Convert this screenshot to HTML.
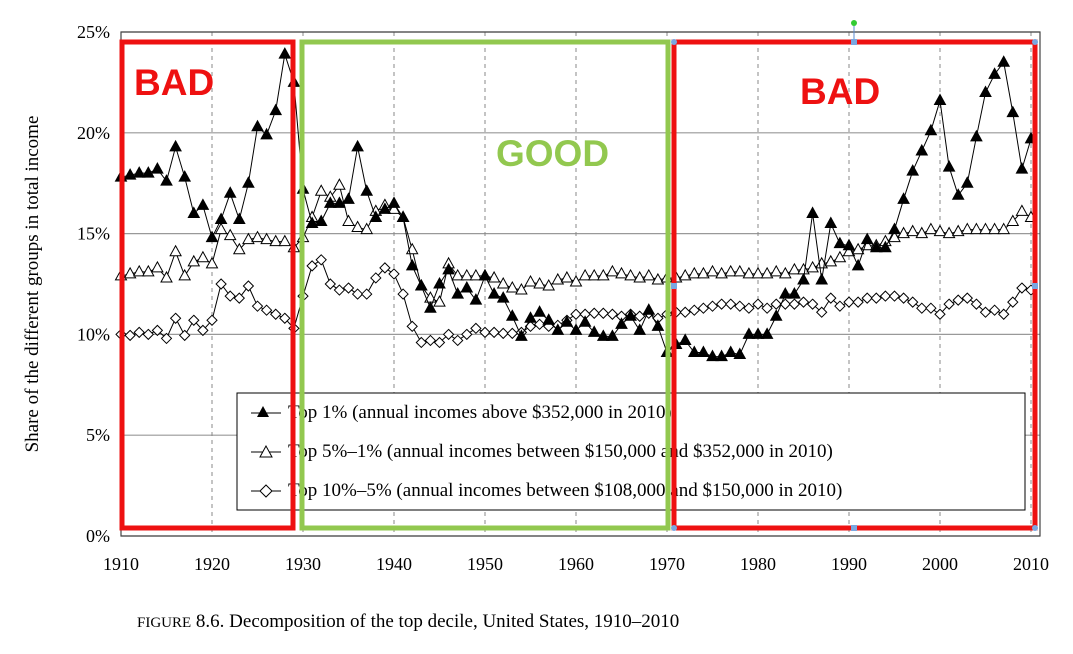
<!DOCTYPE html>
<html><head><meta charset="utf-8"><style>
body{margin:0;background:#fff;}
svg text{font-family:"Liberation Serif",serif;}
</style></head><body>
<svg id="c" width="1073" height="649" viewBox="0 0 1073 649" xmlns="http://www.w3.org/2000/svg">
<g id="grid"></g>
<g id="axes"></g>
<g id="series"></g>
<g id="legend">
<rect x="237" y="393" width="788" height="117" fill="#fff" stroke="#000" stroke-width="1"/>
<polygon points="263,406 257,417 269,417" fill="#000"/>
<line x1="251" y1="413" x2="281" y2="413" stroke="#000"/>
<text x="288" y="418" font-size="19">Top 1% (annual incomes above $352,000 in 2010)</text>
<line x1="251" y1="452" x2="281" y2="452" stroke="#000"/>
<polygon points="266,446 260,457 272,457" fill="#fff" stroke="#000"/>
<text x="288" y="457" font-size="19">Top 5%–1% (annual incomes between $150,000 and $352,000 in 2010)</text>
<line x1="251" y1="491" x2="281" y2="491" stroke="#000"/>
<polygon points="266,485 272,491 266,497 260,491" fill="#fff" stroke="#000"/>
<text x="288" y="496" font-size="19">Top 10%–5% (annual incomes between $108,000 and $150,000 in 2010)</text>
</g>
<g id="annot">
<rect x="122" y="42" width="171" height="486" fill="none" stroke="#ee1111" stroke-width="5"/>
<rect x="302" y="42" width="366" height="486" fill="none" stroke="#92c84f" stroke-width="5"/>
<rect x="674" y="42" width="361" height="486" fill="none" stroke="#ee1111" stroke-width="5"/>
<text x="134" y="95" font-size="37" font-weight="bold" fill="#ee1111" style="font-family:'Liberation Sans',sans-serif">BAD</text>
<text x="496" y="166" font-size="37" font-weight="bold" fill="#92c84f" style="font-family:'Liberation Sans',sans-serif">GOOD</text>
<text x="800" y="104" font-size="37" font-weight="bold" fill="#ee1111" style="font-family:'Liberation Sans',sans-serif">BAD</text>
<line x1="854" y1="24" x2="854" y2="42" stroke="#5b8bd0"/>
<circle cx="854" cy="23" r="3" fill="#3c3"/>
<rect x="851" y="39" width="6" height="6" fill="#7aa7e0"/><rect x="851" y="525" width="6" height="6" fill="#7aa7e0"/>
<rect x="671" y="283" width="6" height="6" fill="#7aa7e0"/><rect x="1032" y="283" width="6" height="6" fill="#7aa7e0"/>
<circle cx="674" cy="42" r="3" fill="#7aa7e0"/><circle cx="1035" cy="42" r="3" fill="#7aa7e0"/>
<circle cx="674" cy="528" r="3" fill="#7aa7e0"/><circle cx="1035" cy="528" r="3" fill="#7aa7e0"/>
</g>
<text transform="translate(38,284) rotate(-90)" text-anchor="middle" font-size="19">Share of the different groups in total income</text>
<text x="137" y="627" font-size="19"><tspan font-size="15">FIGURE</tspan> 8.6.  Decomposition of the top decile, United States, 1910–2010</text>
</svg>
<script>
const years = []; for (let y = 1910; y <= 2010; y++) years.push(y);
const top1 = [17.8,17.9,18.0,18.0,18.2,17.6,19.3,17.8,16.0,16.4,14.8,15.7,17.0,15.7,17.5,20.3,19.9,21.1,23.9,22.5,
17.2,15.5,15.6,16.5,16.5,16.7,19.3,17.1,15.8,16.2,16.5,15.8,13.4,12.4,11.3,12.5,13.2,12.0,12.3,11.7,
12.9,12.0,11.8,10.9,9.9,10.8,11.1,10.7,10.2,10.6,10.2,10.6,10.1,9.9,9.9,10.5,10.9,10.2,11.2,10.4,
9.1,9.5,9.7,9.1,9.1,8.9,8.9,9.1,9.0,10.0,10.0,10.0,10.9,12.0,12.0,12.7,16.0,12.7,15.5,14.5,
14.4,13.4,14.7,14.3,14.3,15.2,16.7,18.1,19.1,20.1,21.6,18.3,16.9,17.5,19.8,22.0,22.9,23.5,21.0,18.2,19.7];
const top5 = [12.9,13.0,13.1,13.1,13.3,12.8,14.1,12.9,13.6,13.8,13.5,15.2,14.9,14.2,14.7,14.8,14.7,14.6,14.6,14.3,
14.8,15.8,17.1,16.8,17.4,15.6,15.3,15.2,16.1,16.4,16.2,15.8,14.2,12.4,11.8,11.6,13.5,12.9,12.9,12.9,
12.9,12.8,12.5,12.3,12.2,12.6,12.5,12.4,12.7,12.8,12.6,12.9,12.9,12.9,13.1,13.0,12.9,12.8,12.9,12.7,
12.8,12.8,12.9,13.0,13.0,13.1,13.0,13.1,13.1,13.0,13.0,13.0,13.1,13.0,13.2,13.2,13.3,13.5,13.6,13.8,
14.1,14.2,14.4,14.4,14.6,14.8,15.0,15.1,15.0,15.2,15.1,15.0,15.1,15.2,15.2,15.2,15.2,15.2,15.6,16.1,15.8];
const top10 = [10.0,9.95,10.1,10.0,10.2,9.8,10.8,9.95,10.7,10.2,10.7,12.5,11.9,11.8,12.4,11.4,11.2,11.0,10.8,10.3,
11.9,13.4,13.7,12.5,12.2,12.3,12.0,12.0,12.8,13.3,13.0,12.0,10.4,9.6,9.7,9.6,10.0,9.7,10.0,10.3,
10.1,10.1,10.05,10.05,10.1,10.4,10.5,10.4,10.45,10.7,11.0,11.0,11.05,11.05,11.0,10.9,11.0,10.9,11.05,10.8,
11.0,11.1,11.1,11.2,11.3,11.4,11.5,11.5,11.4,11.3,11.5,11.3,11.5,11.5,11.5,11.6,11.5,11.1,11.8,11.4,
11.6,11.6,11.8,11.8,11.9,11.9,11.8,11.6,11.3,11.3,11.0,11.5,11.7,11.8,11.5,11.1,11.2,11.0,11.6,12.3,12.2];
const yTicks = [0,5,10,15,20,25];
const yTickLabels = ["0%","5%","10%","15%","20%","25%"];
const xTicks = [1910,1920,1930,1940,1950,1960,1970,1980,1990,2000,2010];

const NS = "http://www.w3.org/2000/svg";
const X0 = 121, X1 = 1031, Y0 = 536, Y1 = 32;
function xs(yr){ return X0 + (yr - 1910) * (X1 - X0) / 100; }
function ys(v){ return Y0 - v * (Y0 - Y1) / 25; }
function mk(tag, attrs, parent){ const e = document.createElementNS(NS, tag); for (const k in attrs) e.setAttribute(k, attrs[k]); parent.appendChild(e); return e; }
const grid = document.getElementById('grid'), axes = document.getElementById('axes'), ser = document.getElementById('series');

yTicks.forEach((t, i) => {
  const l = mk('line', {x1: X0, x2: 1040, y1: ys(t), y2: ys(t), stroke: '#999', 'stroke-width': 1.2}, grid);
  
  
  const tx = mk('text', {x: 110, y: ys(t) + 6, 'text-anchor': 'end', 'font-size': 18}, axes);
  tx.textContent = yTickLabels[i];
  
  
});
xTicks.forEach(t => {
  if (t > 1910) {
    const l = mk('line', {x1: xs(t), x2: xs(t), y1: Y1, y2: Y0, stroke: '#888', 'stroke-dasharray': '4,4'}, grid);
    
    
  }
  const tx = mk('text', {x: xs(t), y: 570, 'text-anchor': 'middle', 'font-size': 18}, axes);
  tx.textContent = t;
  
  
});
const ax = mk('rect', {x: X0, y: Y1, width: 1040 - X0, height: Y0 - Y1, fill: 'none', stroke: '#444', 'stroke-width': 1.2}, axes);



function drawSeries(vals, kind, name){
  const g = mk('g', {}, ser);
  
  
  const pts = vals.map((v, i) => xs(years[i]) + ',' + ys(v)).join(' ');
  mk('polyline', {points: pts, fill: 'none', stroke: '#000', 'stroke-width': 1}, g);
  vals.forEach((v, i) => {
    const x = xs(years[i]), y = ys(v);
    let p;
    if (kind === 'diamond') p = `${x},${y-5} ${x+5},${y} ${x},${y+5} ${x-5},${y}`;
    else p = `${x},${y-6} ${x+5.5},${y+4} ${x-5.5},${y+4}`;
    const m = mk('polygon', {points: p, fill: kind === 'filled' ? '#000' : '#fff', stroke: '#000', 'stroke-width': 1}, g);
    
    
  });
}
drawSeries(top10, 'diamond', 'series-top10-5');
drawSeries(top5, 'open', 'series-top5-1');
drawSeries(top1, 'filled', 'series-top1');
</script>
</body></html>
